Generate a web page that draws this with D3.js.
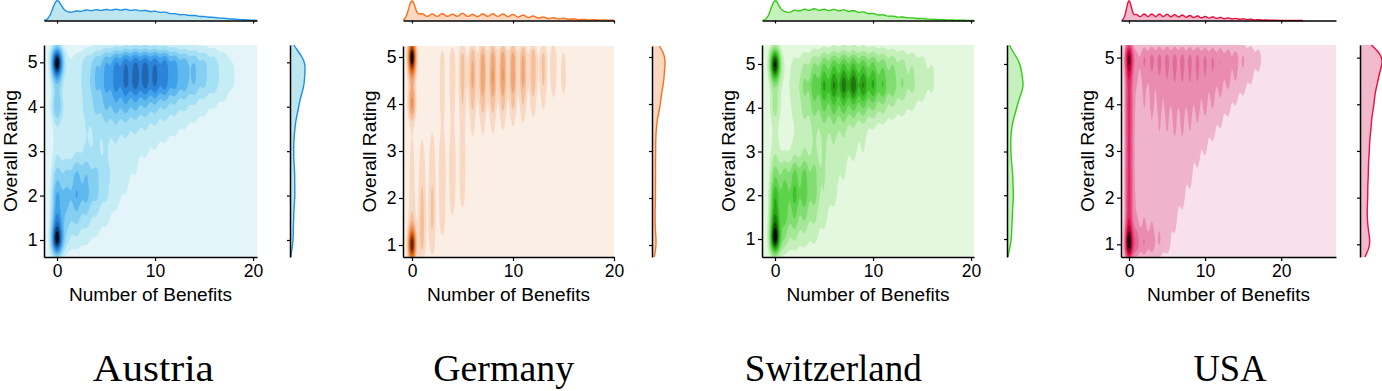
<!DOCTYPE html>
<html><head><meta charset="utf-8">
<script src="https://cdn.jsdelivr.net/npm/d3@7"></script>
<style>body{margin:0;background:#fff}svg{display:block}</style>
</head><body>
<svg id="c" width="1382" height="391"></svg>
<script>
// ---------------- DATA ----------------
const countries = ["Austria", "Germany", "Switzerland", "USA"];
const ratings = [5, 4.5, 4, 3.5, 3, 2.5, 2, 1.5, 1];
const benefits = [0,1,2,3,4,5,6,7,8,9,10,11,12,13,14,15,16,17,18,19,20];
const benefitsUSA = [0,1,2,3,4,5,6,7,8,9,10,11,12,13,14,15,16,17,18,19,20,21,22];
const xTicks = [0, 10, 20];
const yTicks = [1, 2, 3, 4, 5];
const xLabel = "Number of Benefits";
const yLabel = "Overall Rating";

// relative counts: rows = ratings (5 .. 1), columns = number of benefits
const austria = [
  [25, 2, 3, 5.2, 7.5, 9.8, 12, 13.5, 14, 14, 13.5, 12.8, 10.5, 9, 7.9, 6.4, 4.9, 3.4, 1.9, 0.75, 0.2],
  [4.5, 2, 3, 5.2, 7.5, 9.8, 12, 13.5, 14, 14, 13.5, 12.4, 10.1, 8.6, 7.5, 6, 4.9, 3.4, 1.9, 0.75, 0.2],
  [9, 2.2, 2.6, 4.5, 6, 7.5, 8.2, 8.2, 7.5, 6.8, 6, 5.2, 4.5, 3.8, 3, 2.2, 1.6, 1.2, 0.9, 0.5, 0.2],
  [2.6, 2.2, 2.2, 3.4, 4.1, 4.5, 4.5, 4.1, 3.8, 3.4, 3, 2.6, 2.1, 1.6, 1.3, 1.1, 0.9, 0.75, 0.6, 0.4, 0.15],
  [3, 2.2, 3, 3.8, 3.8, 3.4, 3, 2.6, 2.2, 1.9, 1.6, 1.3, 0.9, 0.9, 0.75, 0.6, 0.5, 0.45, 0.45, 0.4, 0.15],
  [6.5, 5.8, 7.8, 7.2, 6, 4.5, 3.4, 2.4, 1.8, 1.35, 1, 0.7, 0.45, 0.45, 0.4, 0.3, 0.2, 0.2, 0.2, 0.2, 0.15],
  [10, 7.8, 9.7, 8.3, 6, 4, 2.5, 1.7, 1.1, 0.75, 0.45, 0.3, 0.15, 0.2, 0.2, 0.15, 0.15, 0.1, 0.15, 0.15, 0.1],
  [11, 6.5, 6.2, 4.8, 3.2, 2.2, 1.4, 0.8, 0.5, 0.3, 0.15, 0.15, 0.1, 0.15, 0.1, 0.1, 0.1, 0.1, 0.1, 0.1, 0],
  [23, 3.8, 3, 2.2, 1.5, 1, 0.6, 0.4, 0.2, 0.1, 0.1, 0.1, 0.1, 0.1, 0.1, 0, 0, 0, 0, 0, 0]
];
const germany = [
  [45, 2, 2.5, 5, 6, 9, 11, 13, 14, 14, 13.5, 12.5, 11, 9, 7, 4.5, 3, 2, 1.2, 0.8, 0.4],
  [7, 2, 2.5, 5, 6, 9, 12, 14, 15, 15, 14, 12.5, 10.5, 8, 6, 5.5, 3, 2, 1.2, 0.8, 0.4],
  [18, 2, 2.5, 5, 5, 7, 8, 9, 9, 8.5, 8, 7, 5.5, 4, 2.5, 2, 1.8, 1.4, 1, 0.6, 0.3],
  [2.5, 2.5, 3, 3.5, 4, 5, 4, 4, 4, 3.5, 3, 2.5, 2, 1.5, 1.5, 1.2, 1.2, 1, 0.8, 0.5, 0.3],
  [4.5, 4.5, 5.2, 6.5, 6.5, 5.8, 2.5, 2, 1.5, 1.2, 1, 0.8, 0.6, 0.5, 0.6, 0.6, 0.6, 0.5, 0.4, 0.3, 0.2],
  [5, 6.5, 6.5, 7, 6.5, 5.8, 1.5, 1.2, 1, 0.8, 0.6, 0.5, 0.4, 0.3, 0.4, 0.4, 0.4, 0.3, 0.3, 0.2, 0.1],
  [6, 7.8, 7.8, 6.5, 5.8, 5.2, 1, 0.8, 0.7, 0.5, 0.4, 0.3, 0.2, 0.2, 0.3, 0.3, 0.3, 0.2, 0.2, 0.1, 0.1],
  [7, 9, 7.8, 5.8, 2.6, 1, 0.6, 0.5, 0.4, 0.3, 0.2, 0.2, 0.1, 0.1, 0.2, 0.2, 0.2, 0.1, 0.1, 0.1, 0],
  [40, 9, 5.8, 2, 0.8, 0.5, 0.4, 0.3, 0.2, 0.2, 0.1, 0.1, 0.1, 0, 0.1, 0.1, 0.1, 0.1, 0.1, 0, 0]
];
const switzerland = [
  [30, 1.7, 3.4, 5.1, 7.7, 10.2, 11.9, 12.8, 12.8, 11.9, 11, 9.4, 7.7, 6.4, 5.1, 3.8, 2.6, 1.7, 1, 0.5, 0.2],
  [5.1, 1.7, 5.1, 8.5, 12.8, 16.5, 19, 20.5, 21.5, 19, 16.5, 13.6, 10.2, 8.1, 6, 4.3, 3, 1.9, 1, 0.5, 0.2],
  [6.8, 1.3, 3.4, 6, 8.5, 10.2, 11, 11, 10.2, 9.4, 7.7, 6, 4.3, 3.4, 2.6, 1.7, 1.2, 0.85, 0.5, 0.25, 0.1],
  [2.6, 0.85, 2.1, 3.8, 5.1, 6, 6, 5.5, 3.8, 3, 1.7, 1.1, 0.85, 0.7, 0.5, 0.4, 0.35, 0.25, 0.2, 0.1, 0.1],
  [4.3, 1.7, 3.4, 4.7, 5.1, 5.1, 4.3, 3.4, 3, 2.6, 1, 0.6, 0.4, 0.35, 0.25, 0.25, 0.2, 0.2, 0.1, 0.1, 0],
  [9, 8.8, 11, 11, 8.8, 5.1, 3.8, 2.6, 1.7, 1, 0.6, 0.35, 0.25, 0.2, 0.2, 0.1, 0.1, 0.1, 0, 0, 0],
  [15, 12.2, 13.8, 12.2, 8.8, 4.7, 3, 1.9, 1.1, 0.6, 0.35, 0.2, 0.2, 0.1, 0.1, 0.1, 0, 0, 0, 0, 0],
  [17, 11, 10, 7.8, 5.6, 3, 1.9, 1.1, 0.6, 0.35, 0.2, 0.1, 0.1, 0.1, 0, 0, 0, 0, 0, 0, 0],
  [30, 6.8, 5.1, 3.8, 3, 1.9, 1.1, 0.7, 0.35, 0.2, 0.1, 0.1, 0, 0, 0, 0, 0, 0, 0, 0, 0]
];
const usa = [
  [50, 12, 17, 18, 18, 18, 18, 18, 17.5, 17.5, 17, 16.5, 16, 15, 13.5, 11.5, 9.5, 7.5, 5, 2.5, 1.2, 0.5, 0.2],
  [26, 9, 11, 12, 13, 13.5, 14, 14, 14, 14, 13.5, 13, 12, 11, 9.5, 7.5, 5, 3, 1.8, 1, 0.5, 0.2, 0.1],
  [28, 8, 9.5, 10.5, 11, 11.5, 12, 12, 12, 11.5, 11, 10, 8.5, 6.5, 4.5, 3, 2, 1.2, 0.7, 0.4, 0.2, 0.1, 0],
  [27, 7.5, 8.5, 9, 9.5, 9.5, 10, 10, 9.5, 9, 8, 6.5, 4.5, 3, 2.2, 1.4, 0.9, 0.5, 0.3, 0.2, 0.1, 0, 0],
  [27, 7.5, 8.5, 8.5, 8.5, 8.5, 8.5, 8.5, 8, 6.5, 5, 3.5, 2.5, 1.7, 1.2, 0.8, 0.5, 0.3, 0.2, 0.1, 0, 0, 0],
  [27, 7.5, 8.5, 8.5, 8.5, 8.5, 8.5, 8, 6, 4, 2.8, 2, 1.4, 1, 0.7, 0.4, 0.3, 0.2, 0.1, 0, 0, 0, 0],
  [28, 8, 8.5, 8.5, 8.5, 8.5, 8, 6, 4, 2.8, 2, 1.5, 1, 0.7, 0.4, 0.3, 0.2, 0.1, 0, 0, 0, 0, 0],
  [27, 9, 9, 8.5, 8.5, 8, 5.5, 3.5, 2.4, 1.8, 1.3, 1, 0.7, 0.4, 0.3, 0.2, 0.1, 0, 0, 0, 0, 0, 0],
  [60, 20, 17, 15, 11, 8, 4, 2.5, 1.6, 1.1, 0.8, 0.6, 0.4, 0.3, 0.2, 0.1, 0, 0, 0, 0, 0, 0, 0]
];

// ---------------- LAYOUT & STYLE ----------------
const panels = [
  {name: countries[0], data: austria, cols: benefits,
   x0: 44, x1: 257, y0: 45, y1: 257, xd: [-1.33, 20.4], yd: [0.617, 5.39],
   mx: 290, mw: 15, bx: 0.42, by: 0.26, mbx: 0.45, mby: 0.26,
   bands: ["#e4f5f9","#c6ecf6","#a6e0f4","#84cff2","#5fb9ef","#3e9feb","#2c84d8","#2066b0","#153f70","#050f1c"],
   line: "#1f8fe8", fill: "#bee6ef", tcx: 153.3, tw: 121},
  {name: countries[1], data: germany, cols: benefits,
   x0: 403, x1: 614, y0: 46, y1: 257, xd: [-0.89, 20.0], yd: [0.745, 5.234],
   mx: 652, mw: 13, bx: 0.27, by: 0.26, mbx: 0.33, mby: 0.26,
   bands: ["#fbeee4","#f8d9c4","#f5c19d","#f0a677","#ec8d52","#ee7526","#d85a08","#a54306","#5e2603","#120600"],
   line: "#ff6d1a", fill: "#fad8c1", tcx: 503.7, tw: 141},
  {name: countries[2], data: switzerland, cols: benefits,
   x0: 762, x1: 974, y0: 45, y1: 257, xd: [-1.33, 20.3], yd: [0.589, 5.434],
   mx: 1007, mw: 16, bx: 0.38, by: 0.26, mbx: 0.42, mby: 0.26,
   bands: ["#e3f8de","#c5f0bb","#a5e898","#82de72","#5ed24b","#3ec12a","#2da016","#1f780e","#124808","#040f02"],
   line: "#33cc14", fill: "#c6f0bd", tcx: 833.3, tw: 177},
  {name: countries[3], data: usa, cols: benefitsUSA,
   x0: 1121, x1: 1336, y0: 45, y1: 257, xd: [-1.05, 27.2], yd: [0.728, 5.27],
   mx: 1360, mw: 22, bx: 0.38, by: 0.26, mbx: 0.33, mby: 0.26,
   bands: ["#f8e1ea","#f0b4ca","#e98cb0","#e36b99","#e34c82","#e32a62","#de0a40","#a6062f","#5c031a","#140005"],
   line: "#e8103c", fill: "#f1b9cc", tcx: 1230, tw: 73}
];

const SANS = "'Liberation Sans', Arial, Helvetica, sans-serif";
const SERIF = "'Liberation Serif', 'Times New Roman', serif";
const svg = d3.select("#c");
const SQ = Math.sqrt(2 * Math.PI);
const gauss = (d, s) => Math.exp(-0.5 * d * d / (s * s)) / (s * SQ);

function styleAxis(sel) {
  sel.select(".domain").attr("stroke", "#000").attr("stroke-width", 1.5);
  sel.selectAll(".tick line").attr("stroke", "#000").attr("stroke-width", 1.2);
  sel.selectAll(".tick text").attr("fill", "#000").style("font-family", SANS).style("font-size", "17.5px");
}

panels.forEach((p, pi) => {
  const data = p.data, cols = p.cols;
  const xs = d3.scaleLinear().domain(p.xd).range([p.x0, p.x1]);
  const ys = d3.scaleLinear().domain(p.yd).range([p.y1, p.y0]);
  const g = svg.append("g");
  const clipId = "clip" + pi;
  svg.append("clipPath").attr("id", clipId).append("rect")
    .attr("x", p.x0).attr("y", p.y0).attr("width", p.x1 - p.x0).attr("height", p.y1 - p.y0);

  // background = lowest density band
  g.append("rect").attr("x", p.x0).attr("y", p.y0).attr("width", p.x1 - p.x0).attr("height", p.y1 - p.y0)
    .attr("fill", p.bands[0]);

  // 2D kernel density on a pixel grid
  const nx = p.x1 - p.x0, ny = p.y1 - p.y0;
  const xv = d3.range(nx).map(i => xs.invert(p.x0 + i + 0.5));
  const yv = d3.range(ny).map(k => ys.invert(p.y0 + k + 0.5));
  const A = data.map(row => xv.map(x => {
    let s = 0; for (let j = 0; j < row.length; j++) if (row[j]) s += row[j] * gauss(x - cols[j], p.bx); return s;
  }));
  const KY = ratings.map(r => yv.map(y => gauss(y - r, p.by)));
  const values = new Array(nx * ny);
  for (let k = 0; k < ny; k++) for (let i = 0; i < nx; i++) {
    let s = 0; for (let r = 0; r < ratings.length; r++) s += A[r][i] * KY[r][k];
    values[k * nx + i] = s;
  }
  const vmax = d3.max(values);
  const thr = d3.range(1, p.bands.length).map(k => k * vmax / p.bands.length);
  const cs = d3.contours().size([nx, ny]).thresholds(thr)(values);
  const path = d3.geoPath(d3.geoIdentity().translate([p.x0, p.y0]));
  g.append("g").attr("clip-path", `url(#${clipId})`)
    .selectAll("path").data(cs).join("path")
    .attr("d", path).attr("fill", (d, i) => p.bands[i + 1]).attr("stroke", "none");

  // axes
  const ax = g.append("g").attr("transform", `translate(0,${p.y1})`)
    .call(d3.axisBottom(xs).tickValues(xTicks).tickSize(4).tickSizeOuter(0).tickPadding(4).tickFormat(d3.format("d")));
  styleAxis(ax);
  const ay = g.append("g").attr("transform", `translate(${p.x0},0)`)
    .call(d3.axisLeft(ys).tickValues(yTicks).tickSize(4).tickSizeOuter(0).tickPadding(2.5).tickFormat(d3.format("d")));
  styleAxis(ay);

  g.append("text").attr("x", (p.x0 + p.x1) / 2).attr("y", 300.5).attr("text-anchor", "middle")
    .attr("textLength", 163).attr("lengthAdjust", "spacingAndGlyphs")
    .style("font-family", SANS).style("font-size", "17.5px").attr("fill", "#000").text(xLabel);
  g.append("text").attr("transform", `translate(${p.x0 - 27},${(p.y0 + p.y1) / 2}) rotate(-90)`)
    .attr("text-anchor", "middle").attr("textLength", 122).attr("lengthAdjust", "spacingAndGlyphs")
    .style("font-family", SANS).style("font-size", "17.5px").attr("fill", "#000").text(yLabel);

  // top marginal (benefits)
  const colSum = cols.map((c, j) => d3.sum(data, row => row[j]));
  const loX = d3.min(cols) - 3 * p.mbx, hiX = d3.max(cols) + 3 * p.mbx;
  const topPts = d3.range(p.x0, p.x1 + 0.01, 1).map(px => ({px, v: xs.invert(px)}))
    .filter(d => d.v >= loX && d.v <= hiX)
    .map(d => ({px: d.px, dens: d3.sum(cols, (c, j) => colSum[j] * gauss(d.v - c, p.mbx))}));
  const base = 20.5;
  const hs = d3.scaleLinear().domain([0, d3.max(topPts, d => d.dens)]).range([base, 0.8]);
  g.append("path").datum(topPts)
    .attr("d", d3.area().x(d => d.px).y0(base).y1(d => hs(d.dens)))
    .attr("fill", p.fill).attr("stroke", "none");
  g.append("path").datum(topPts)
    .attr("d", d3.line().x(d => d.px).y(d => hs(d.dens)))
    .attr("fill", "none").attr("stroke", p.line).attr("stroke-width", 1.4);
  const tx = g.append("g").attr("transform", `translate(0,${base})`)
    .call(d3.axisBottom(xs).tickValues(xTicks).tickSize(3).tickSizeOuter(0).tickFormat(""));
  styleAxis(tx);

  // right marginal (rating)
  const rowSum = data.map(row => d3.sum(row));
  const loY = d3.min(ratings) - 3 * p.mby, hiY = d3.max(ratings) + 3 * p.mby;
  const rPts = d3.range(p.y0, p.y1 + 0.01, 1).map(py => ({py, v: ys.invert(py)}))
    .filter(d => d.v >= loY && d.v <= hiY)
    .map(d => ({py: d.py, dens: d3.sum(ratings, (r, i) => rowSum[i] * gauss(d.v - r, p.mby))}));
  const wsc = d3.scaleLinear().domain([0, d3.max(rPts, d => d.dens)]).range([p.mx, p.mx + p.mw]);
  g.append("path").datum(rPts)
    .attr("d", d3.area().y(d => d.py).x0(p.mx).x1(d => wsc(d.dens)))
    .attr("fill", p.fill).attr("stroke", "none");
  g.append("path").datum(rPts)
    .attr("d", d3.line().y(d => d.py).x(d => wsc(d.dens)))
    .attr("fill", "none").attr("stroke", p.line).attr("stroke-width", 1.4);
  const ry = g.append("g").attr("transform", `translate(${p.mx},0)`)
    .call(d3.axisLeft(ys).tickValues(yTicks).tickSize(3).tickSizeOuter(0).tickFormat(""));
  styleAxis(ry);

  // panel title
  g.append("text").attr("x", p.tcx).attr("y", 380.5).attr("text-anchor", "middle")
    .attr("textLength", p.tw).attr("lengthAdjust", "spacingAndGlyphs")
    .style("font-family", SERIF).style("font-size", "38px").attr("fill", "#000").text(p.name);
});
</script>
</body></html>
